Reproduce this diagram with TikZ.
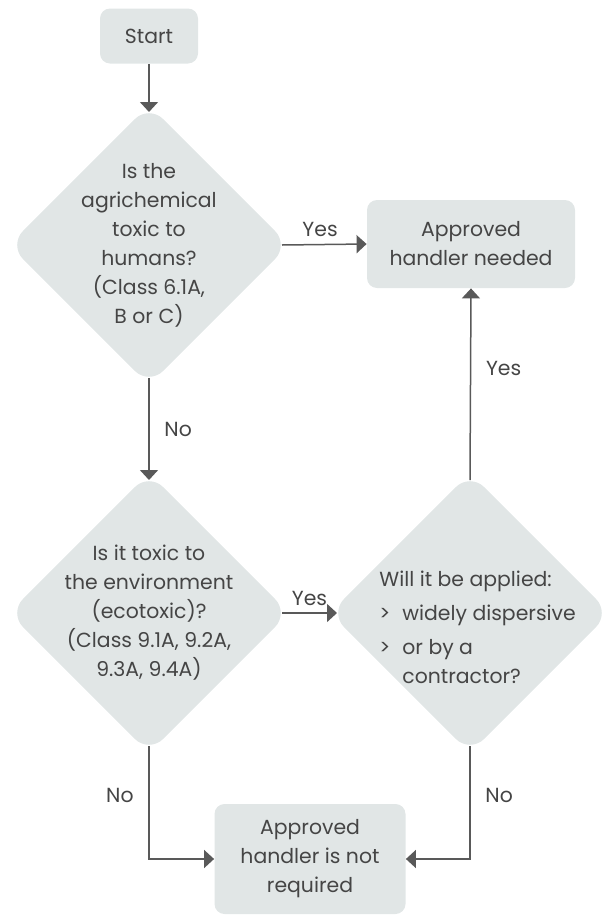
\documentclass[tikz,border=0pt]{standalone}
\usepackage{fontspec}
\setmainfont{Poppins}
\usetikzlibrary{arrows.meta,shapes.geometric}
\definecolor{boxfill}{HTML}{E1E6E6}
\definecolor{inkc}{HTML}{454545}
\definecolor{linec}{HTML}{595959}
\tikzset{
  ar/.style={-{Triangle[length=5pt,width=9pt]},line width=0.75pt,linec},
  box/.style={fill=boxfill,rounded corners=5pt,align=center,text=inkc,inner sep=0pt},
  dia/.style={diamond,fill=boxfill,rounded corners=10pt,inner sep=0pt,outer sep=-2.5pt,minimum width=138pt,minimum height=138pt},
  dtext/.style={align=center,text=inkc},
  lbl/.style={text=inkc}
}
\newcommand{\bul}{\makebox[11.5pt][l]{>}}

\begin{document}
\begin{tikzpicture}[x=0.5pt,y=-0.5pt,font=\fontsize{10.2}{14.5}\selectfont]
\useasboundingbox (0,0) rectangle (603,916);
% boxes
\node[box,minimum width=49pt,minimum height=27.5pt] (start) at (149,36) {Start};
\node[box,minimum width=104pt,minimum height=44pt] (need) at (471,244) {Approved\\handler needed};
\node[box,minimum width=95.5pt,minimum height=55pt] (notreq) at (310,859) {Approved\\handler is not\\required};
% decisions
\node[dia,label={[dtext]center:Is the\\agrichemical\\toxic to\\humans?\\(Class 6.1A,\\B or C)}] (human) at (149,245) {};
\node[dia,label={[dtext]center:Is it toxic to\\the environment\\(ecotoxic)?\\(Class 9.1A, 9.2A,\\9.3A, 9.4A)}] (eco) at (149,613) {};
\node[dia] (apply) at (470,613) {};
\node[align=left,text=inkc,inner sep=0pt,anchor=west] (applytxt) at (379,627) {Will it be applied:\\[2.5pt]\bul widely dispersive\\[2.5pt]\bul or by a\\\hphantom{\bul}contractor?};
% connectors
\draw[ar] (start) -- (human.north);
\draw[ar] (human.east) -- node[lbl,above,pos=0.45] {Yes} (need.west);
\draw[ar] (human.south) -- node[lbl,right,xshift=4pt] {No} (eco.north);
\draw[ar] (eco.east) -- node[lbl,above] {Yes} (apply.west);
\draw[ar] (apply.north) -- node[lbl,right,xshift=4pt,pos=0.58] {Yes} (need.south);
\draw[ar] (eco.south) |- node[lbl,left,pos=0.22,xshift=-4pt] {No} (notreq.west);
\draw[ar] (apply.south) |- node[lbl,right,pos=0.22,xshift=4pt] {No} (notreq.east);
\end{tikzpicture}
\end{document}
